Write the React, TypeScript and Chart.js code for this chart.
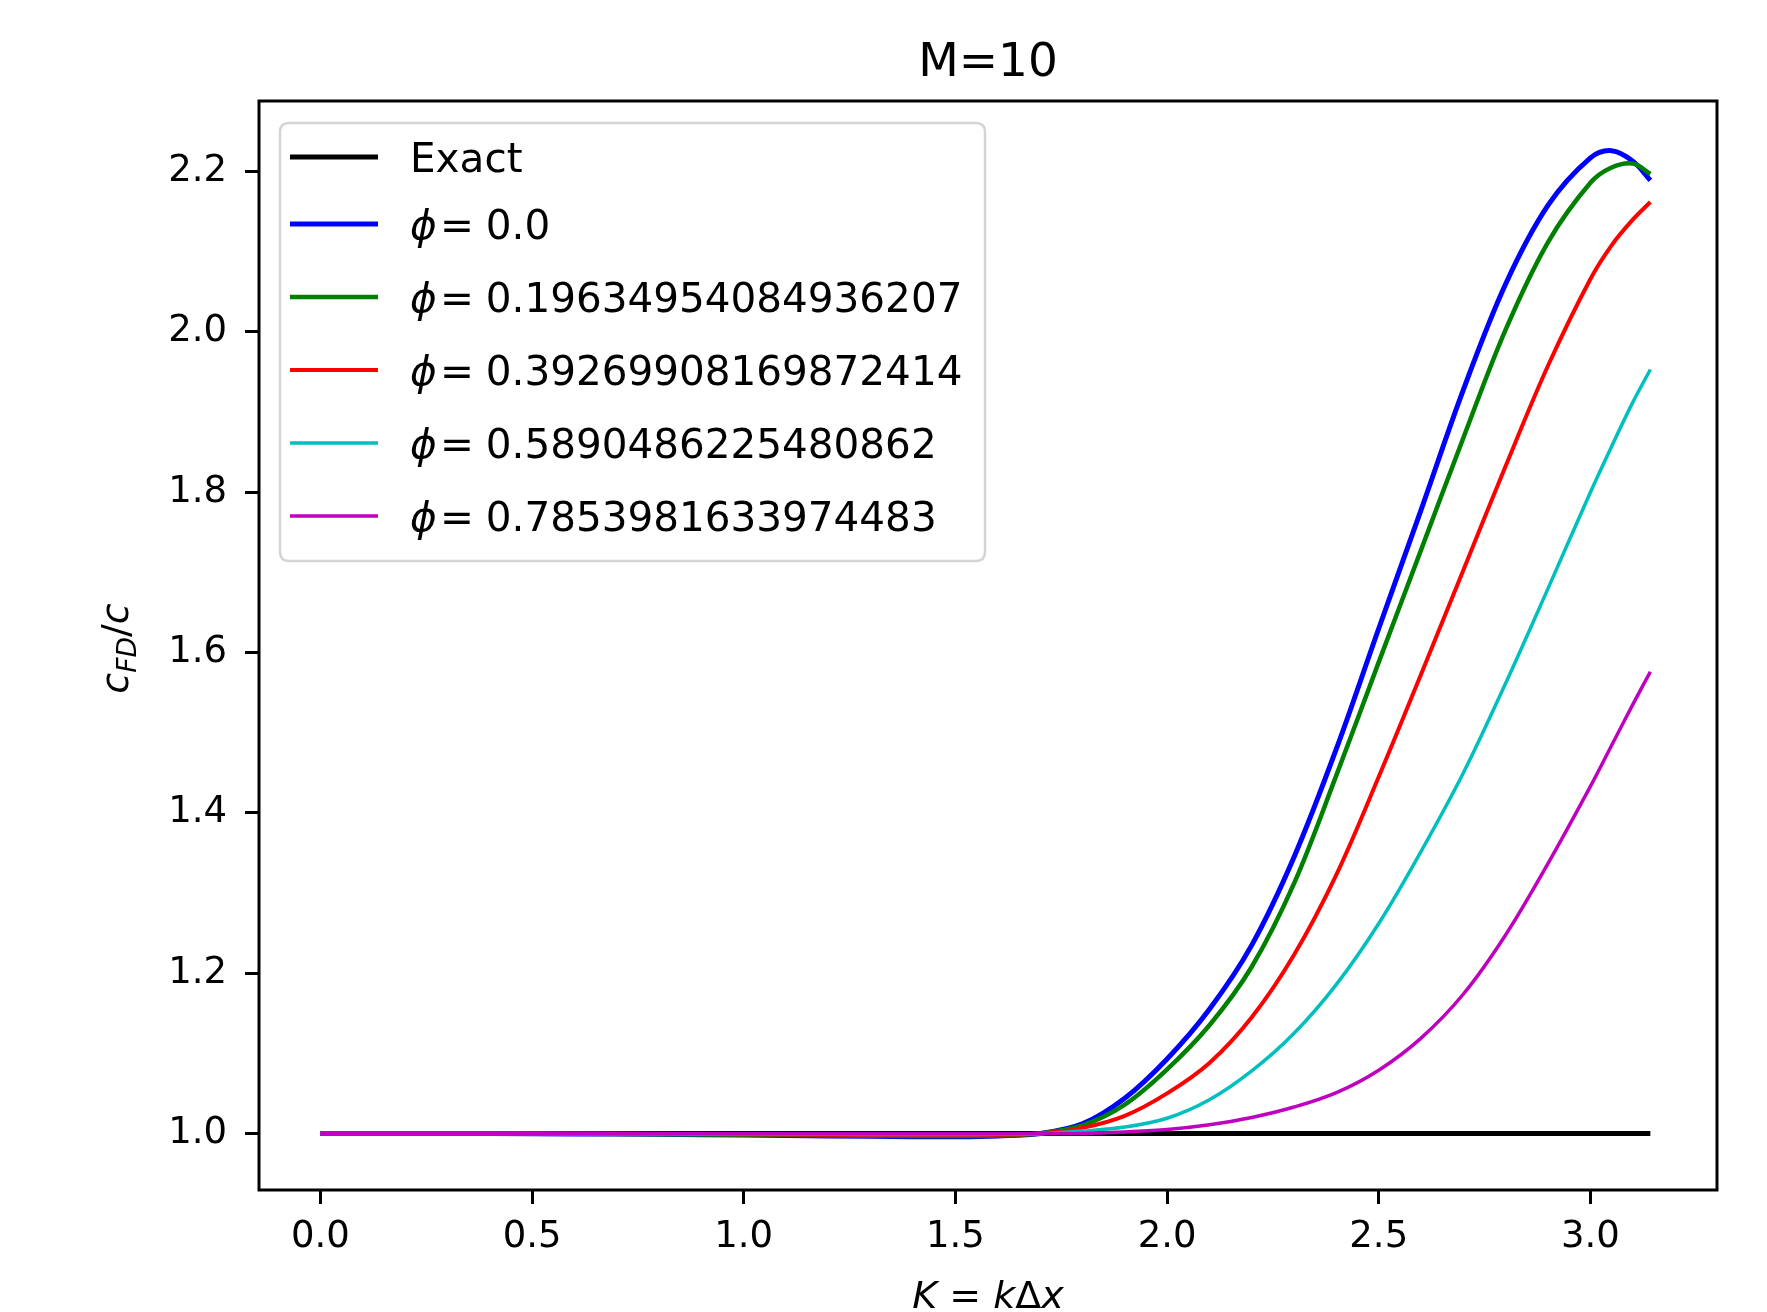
import React, { useEffect, useRef } from "react";
import { Chart, registerables } from "chart.js";

Chart.register(...registerables);

// ---------------- data ----------------
const TITLE = "M=10";

const K_VALUES = [0, 0.2, 0.4, 0.6, 0.8, 1.0, 1.2, 1.4, 1.5, 1.6, 1.7, 1.8, 1.9, 2.0, 2.1, 2.2, 2.3, 2.4, 2.5, 2.6, 2.7, 2.8, 2.9, 3.0, 3.05, 3.1, 3.1416];

const EXACT = [1.0, 1.0, 1.0, 1.0, 1.0, 1.0, 1.0, 1.0, 1.0, 1.0, 1.0, 1.0, 1.0, 1.0, 1.0, 1.0, 1.0, 1.0, 1.0, 1.0, 1.0, 1.0, 1.0, 1.0, 1.0, 1.0, 1.0];
const PHI_0 = [1.0, 1.0, 1.0, 0.9995, 0.999, 0.998, 0.997, 0.996, 0.996, 0.997, 1.0, 1.012, 1.044, 1.093, 1.155, 1.235, 1.345, 1.48, 1.63, 1.778, 1.928, 2.06, 2.158, 2.217, 2.226, 2.213, 2.189];
const PHI_1 = [1.0, 1.0, 1.0, 0.9996, 0.9992, 0.9985, 0.9975, 0.9968, 0.9968, 0.9975, 1.0, 1.01, 1.036, 1.08, 1.135, 1.208, 1.312, 1.447, 1.588, 1.728, 1.868, 2.003, 2.112, 2.186, 2.205, 2.21, 2.197];
const PHI_2 = [1.0, 1.0, 1.0, 0.9997, 0.9994, 0.999, 0.9983, 0.9978, 0.9978, 0.9985, 1.0, 1.007, 1.022, 1.05, 1.088, 1.145, 1.223, 1.323, 1.445, 1.573, 1.703, 1.833, 1.958, 2.066, 2.108, 2.14, 2.162];
const PHI_3 = [1.0, 1.0, 1.0, 0.9998, 0.9996, 0.9993, 0.999, 0.9987, 0.9987, 0.999, 0.9998, 1.003, 1.008, 1.019, 1.042, 1.078, 1.125, 1.186, 1.262, 1.352, 1.45, 1.562, 1.68, 1.8, 1.857, 1.912, 1.953];
const PHI_4 = [1.0, 1.0, 1.0, 1.0, 0.9999, 0.9998, 0.9997, 0.9996, 0.9996, 0.9997, 0.9999, 1.0, 1.002, 1.005, 1.011, 1.02, 1.033, 1.051, 1.079, 1.119, 1.174, 1.248, 1.337, 1.433, 1.484, 1.535, 1.576];

const SERIES = [EXACT, PHI_0, PHI_1, PHI_2, PHI_3, PHI_4];
const SERIES_LABELS = ["Exact", "ϕ = 0.0", "ϕ = 0.19634954084936207", "ϕ = 0.39269908169872414", "ϕ = 0.5890486225480862", "ϕ = 0.7853981633974483"];

const X_TICKS = [0.0, 0.5, 1.0, 1.5, 2.0, 2.5, 3.0];
const Y_TICKS = [1.0, 1.2, 1.4, 1.6, 1.8, 2.0, 2.2];

// ---------------- styles ----------------
const SERIES_COLORS = ["#000000", "#0000ff", "#008000", "#ff0000", "#00bfbf", "#bf00bf"];
const SERIES_WIDTHS = [5, 5, 4.5, 4, 3.5, 3.5];
const FONT = "'DejaVu Sans', 'Liberation Sans', sans-serif";

type Seg = { t: string; italic?: boolean; scale?: number; dy?: number };

function segWidth(ctx: CanvasRenderingContext2D, segs: Seg[], size: number) {
  let w = 0;
  for (const s of segs) {
    ctx.font = `${s.italic ? "italic " : ""}${size * (s.scale || 1)}px ${FONT}`;
    w += ctx.measureText(s.t).width;
  }
  return w;
}

function drawSegs(ctx: CanvasRenderingContext2D, segs: Seg[], x: number, baseline: number, size: number) {
  let cx = x;
  ctx.textAlign = "left";
  ctx.textBaseline = "alphabetic";
  for (const s of segs) {
    ctx.font = `${s.italic ? "italic " : ""}${size * (s.scale || 1)}px ${FONT}`;
    ctx.fillText(s.t, cx, baseline + (s.dy || 0) * size);
    cx += ctx.measureText(s.t).width;
  }
}

const decorPlugin = {
  id: "mplDecor",
  afterDraw(chart: any) {
    const { ctx, chartArea: a } = chart;
    ctx.save();
    // frame
    ctx.strokeStyle = "#000";
    ctx.lineWidth = 3;
    ctx.strokeRect(a.left, a.top, a.right - a.left, a.bottom - a.top);

    ctx.fillStyle = "#000";
    // title
    ctx.font = `47px ${FONT}`;
    ctx.textAlign = "center";
    ctx.textBaseline = "alphabetic";
    ctx.fillText(TITLE, (a.left + a.right) / 2, 76);

    // x label: K = kΔx
    const xSegs: Seg[] = [
      { t: "K", italic: true },
      { t: " = " },
      { t: "k", italic: true },
      { t: "Δ" },
      { t: "x", italic: true },
    ];
    const xs = 38;
    const xw = segWidth(ctx, xSegs, xs);
    drawSegs(ctx, xSegs, (a.left + a.right) / 2 - xw / 2, 1308, xs);

    // y label: c_FD / c
    const ySegs: Seg[] = [
      { t: "c", italic: true },
      { t: "FD", italic: true, scale: 0.7, dy: 0.2 },
      { t: "/" },
      { t: "c", italic: true },
    ];
    const ys = 38;
    const yw = segWidth(ctx, ySegs, ys);
    ctx.save();
    ctx.translate(128, (a.top + a.bottom) / 2 + 3);
    ctx.rotate(-Math.PI / 2);
    drawSegs(ctx, ySegs, -yw / 2, 0, ys);
    ctx.restore();

    // legend
    const L = 280, T = 123, R = 985, B = 561, rad = 9;
    ctx.beginPath();
    ctx.moveTo(L + rad, T);
    ctx.lineTo(R - rad, T);
    ctx.quadraticCurveTo(R, T, R, T + rad);
    ctx.lineTo(R, B - rad);
    ctx.quadraticCurveTo(R, B, R - rad, B);
    ctx.lineTo(L + rad, B);
    ctx.quadraticCurveTo(L, B, L, B - rad);
    ctx.lineTo(L, T + rad);
    ctx.quadraticCurveTo(L, T, L + rad, T);
    ctx.closePath();
    ctx.fillStyle = "rgba(255,255,255,0.85)";
    ctx.fill();
    ctx.strokeStyle = "#d4d4d4";
    ctx.lineWidth = 2.5;
    ctx.stroke();

    const ls = 40.5;
    const ds = chart.data.datasets;
    for (let i = 0; i < ds.length; i++) {
      const rowY = i === 0 ? 157 : 224 + 73 * (i - 1);
      ctx.strokeStyle = ds[i].borderColor;
      ctx.lineWidth = ds[i].borderWidth;
      ctx.lineCap = "butt";
      ctx.beginPath();
      ctx.moveTo(290, rowY);
      ctx.lineTo(378, rowY);
      ctx.stroke();
      ctx.fillStyle = "#000";
      const label: string = ds[i].label;
      const base = rowY + 15;
      const tx = 410;
      ctx.textAlign = "left";
      ctx.textBaseline = "alphabetic";
      if (label.startsWith("ϕ")) {
        const rest = label.split("=")[1].trim();
        ctx.font = `italic ${ls}px ${FONT}`;
        ctx.fillText("ϕ", tx, base);
        ctx.font = `${ls}px ${FONT}`;
        ctx.fillText("=", tx + 0.74 * ls, base);
        ctx.fillText(rest, tx + 1.87 * ls, base);
      } else {
        ctx.font = `${ls}px ${FONT}`;
        ctx.fillText(label, tx, base);
      }
    }
    ctx.restore();
  },
};

export default function App() {
  const ref = useRef<HTMLCanvasElement | null>(null);

  useEffect(() => {
    if (!ref.current) return;
    Chart.defaults.font.family = FONT;
    const n = SERIES.length;
    const chart = new Chart(ref.current, {
      type: "line",
      data: {
        datasets: SERIES.map((vals, i) => ({
          label: SERIES_LABELS[i],
          data: K_VALUES.map((k, j) => ({ x: k, y: vals[j] })),
          borderColor: SERIES_COLORS[i],
          backgroundColor: SERIES_COLORS[i],
          borderWidth: SERIES_WIDTHS[i],
          pointRadius: 0,
          fill: false,
          tension: 0.35,
          order: n - 1 - i,
        })),
      },
      options: {
        responsive: false,
        animation: false,
        devicePixelRatio: 1,
        events: [],
        layout: { padding: { top: 101, right: 50, left: 0, bottom: 0 } },
        plugins: {
          legend: { display: false },
          title: { display: false },
          tooltip: { enabled: false },
        },
        scales: {
          x: {
            type: "linear",
            min: -0.145,
            max: 3.299,
            afterBuildTicks: (scale: any) => {
              scale.ticks = X_TICKS.map((v) => ({ value: v }));
            },
            afterFit: (scale: any) => {
              scale.height = 1312 - 1190;
            },
            ticks: {
              autoSkip: false,
              maxRotation: 0,
              padding: 11,
              color: "#000",
              font: { size: 37, family: FONT },
              callback: (v: any) => Number(v).toFixed(1),
            },
            grid: {
              display: true,
              drawOnChartArea: false,
              drawTicks: true,
              tickLength: 14,
              tickWidth: 3,
              tickColor: "#000",
            },
            border: { display: false },
          },
          y: {
            type: "linear",
            min: 0.9295,
            max: 2.288,
            afterBuildTicks: (scale: any) => {
              scale.ticks = Y_TICKS.map((v) => ({ value: v }));
            },
            afterFit: (scale: any) => {
              scale.width = 259;
            },
            ticks: {
              autoSkip: false,
              padding: 18,
              color: "#000",
              font: { size: 37, family: FONT },
              callback: (v: any) => Number(v).toFixed(1),
            },
            grid: {
              display: true,
              drawOnChartArea: false,
              drawTicks: true,
              tickLength: 14,
              tickWidth: 3,
              tickColor: "#000",
            },
            border: { display: false },
          },
        },
      },
      plugins: [decorPlugin],
    } as any);
    return () => chart.destroy();
  }, []);

  return (
    <div style={{ position: "absolute", left: 0, top: 0, width: 1767, height: 1312, background: "#fff" }}>
      <canvas ref={ref} width={1767} height={1312} style={{ display: "block" }} />
    </div>
  );
}
